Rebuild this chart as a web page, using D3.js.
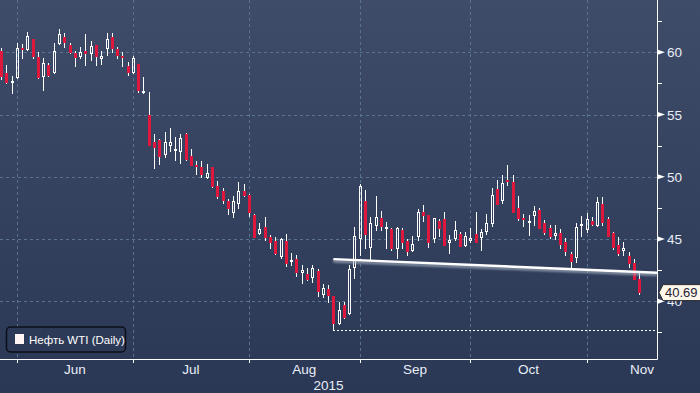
<!DOCTYPE html>
<html><head><meta charset="utf-8">
<script src="https://cdn.jsdelivr.net/npm/d3@7"></script>
<style>html,body{margin:0;padding:0;background:#2d3a58;overflow:hidden}</style>
</head><body>
<script>
// ---- DATA ----
const opens = [60.10,58.30,57.66,57.95,60.31,60.18,61.04,59.59,57.98,58.97,58.31,60.63,61.20,60.58,59.96,59.59,60.10,59.83,60.58,59.43,60.23,61.20,60.23,59.72,58.89,58.31,59.05,56.88,54.96,52.79,52.95,51.74,52.47,52.16,51.98,53.43,51.66,50.94,50.76,49.89,50.76,49.28,48.86,48.05,47.06,47.78,48.85,48.53,46.93,45.37,45.94,45.18,44.84,43.57,44.84,43.28,43.40,42.24,42.18,41.84,42.45,40.50,41.02,40.38,38.17,39.70,38.95,42.64,44.97,48.09,44.26,46.04,46.66,45.90,45.80,44.17,45.72,44.84,44.06,45.14,47.19,46.92,44.97,46.44,46.60,44.66,44.99,45.40,44.46,44.86,45.40,45.05,45.58,46.20,48.99,48.07,49.74,49.55,47.46,46.72,46.26,46.87,47.33,46.31,45.91,45.26,45.50,44.78,43.79,43.45,46.07,45.72,46.47,46.04,47.81,46.60,45.45,44.51,44.06,43.63,43.04,41.82];
const highs = [60.31,58.97,58.09,60.71,60.66,61.60,61.10,59.99,59.51,59.16,60.71,61.84,61.52,60.71,60.10,60.39,61.46,60.92,60.60,60.10,61.56,61.56,60.44,59.99,59.24,59.70,59.10,58.03,56.80,53.43,53.03,53.62,53.89,53.17,53.43,53.53,52.23,51.26,51.26,51.02,50.80,49.66,49.07,48.21,48.45,49.55,49.42,48.61,47.00,46.26,46.74,45.32,45.16,45.05,45.40,43.85,43.71,42.91,42.67,42.91,42.59,41.37,41.29,40.40,39.97,39.97,42.91,45.98,49.39,48.90,46.79,48.48,47.25,46.40,45.88,46.00,45.86,45.00,45.24,47.41,47.73,46.95,46.71,46.58,47.19,45.32,46.47,45.58,45.58,45.90,47.19,45.80,47.00,49.12,49.74,50.14,50.94,50.14,48.45,46.98,46.93,47.67,47.52,46.53,46.13,46.13,45.80,45.05,43.98,46.31,46.85,47.06,46.74,48.39,48.39,46.79,45.58,45.18,44.73,43.98,43.39,42.30];
const lows = [57.77,57.42,56.64,57.82,59.43,60.12,59.43,57.85,56.91,57.98,58.28,60.55,60.31,59.83,58.79,59.45,58.89,59.32,58.92,58.99,59.70,59.91,59.45,58.84,58.11,58.25,56.75,56.64,52.47,50.62,50.94,51.53,52.01,51.29,51.00,51.29,50.85,50.14,49.92,49.84,49.09,48.21,47.78,46.92,46.71,47.41,48.39,46.79,45.05,45.32,44.86,44.19,43.71,43.40,42.77,42.83,41.97,41.39,41.65,41.43,40.34,40.22,39.88,37.69,38.09,38.58,38.90,41.79,43.63,44.19,43.31,45.64,45.64,44.19,44.00,43.40,44.19,43.63,43.98,44.86,46.39,44.30,44.70,45.13,44.40,43.77,44.84,44.35,44.38,44.65,44.68,44.06,45.32,45.93,47.73,47.81,49.25,47.11,46.47,45.99,45.27,46.04,45.80,45.32,44.97,44.92,44.19,43.63,42.57,43.10,45.19,45.46,46.07,45.99,46.07,45.19,44.11,43.63,43.63,42.64,41.70,40.50];
const closes = [58.03,57.50,57.72,60.31,60.20,61.30,59.64,57.95,59.11,58.09,60.12,61.46,60.76,59.96,59.51,59.99,59.88,60.50,59.59,59.70,61.04,60.26,59.72,59.64,58.35,59.51,56.91,56.91,52.49,52.33,51.61,52.79,52.79,52.23,53.11,51.34,50.88,50.86,50.14,50.32,49.20,48.39,48.08,47.38,48.05,48.85,48.48,47.11,45.11,45.79,45.11,44.65,43.79,45.00,42.99,43.31,42.24,42.50,41.73,42.64,40.76,41.08,40.38,38.15,39.29,38.63,42.56,45.24,49.26,45.33,46.26,46.74,45.99,45.98,44.17,45.89,44.65,43.98,44.57,47.17,46.87,44.65,46.66,45.80,44.46,44.92,45.72,44.38,45.24,45.05,44.70,45.53,46.26,48.53,47.73,49.47,49.60,47.11,46.60,46.63,46.44,47.27,45.80,45.46,45.19,45.45,44.51,43.97,43.17,45.99,46.18,46.58,46.12,47.95,46.26,45.19,44.30,43.79,44.25,42.96,41.70,40.69];
const monthLabels = ["Jun","Jul","Aug","Sep","Oct","Nov"];
const monthStartIdx = [3,25,47,68,89,111,132];   // trading-day index of each month start (last = Dec)
const yearLabel = "2015";
const yTicksMajor = [40,45,50,55,60];
const yTicksMinor = [37.5,42.5,47.5,52.5,57.5,62.5];
const trendStartIdx = 63;
const trendPrices = [43.38, 42.29];           // start, at right axis
const supportIdx = 63;                        // low of this candle -> dotted support line
const seriesName = "Нефть WTI (Daily)";

// ---- LAYOUT ----
const W = 700, H = 393, plotR = 657, axisY = 359;
const RED = "#e0173d";
const svg = d3.select("body").append("svg").attr("width", W).attr("height", H);
const defs = svg.append("defs");
const g = defs.append("linearGradient").attr("id","bg").attr("x1",0).attr("y1",0).attr("x2",0).attr("y2",1);
g.append("stop").attr("offset","0%").attr("stop-color","#3f4c69");
g.append("stop").attr("offset","100%").attr("stop-color","#2a3755");
const blur = defs.append("filter").attr("id","blur").attr("x","-5%").attr("y","-200%").attr("width","110%").attr("height","500%");
blur.append("feGaussianBlur").attr("stdDeviation",1.2);
svg.append("rect").attr("width",W).attr("height",H).attr("fill","url(#bg)");

const x = d3.scaleLinear().domain([0, 121]).range([1, 639.3]);
const y = d3.scaleLinear().domain([40, 60]).range([301.2, 52.3]);

// grid
const grid = svg.append("g").attr("stroke","#58728f").attr("stroke-dasharray","3,3").attr("stroke-width",1);
yTicksMajor.forEach(v => {
  const yy = Math.round(y(v)) + 0.5;
  grid.append("line").attr("x1",0).attr("x2",plotR).attr("y1",yy).attr("y2",yy);
});
monthStartIdx.slice(0,6).forEach(i => {
  const xx = Math.round(x(i)) + 0.5;
  grid.append("line").attr("x1",xx).attr("x2",xx).attr("y1",0).attr("y2",axisY);
});

// support dotted line
const sy = Math.round(y(lows[supportIdx])) + 0.5;
svg.append("line").attr("x1", Math.round(x(supportIdx))).attr("x2", plotR).attr("y1", sy).attr("y2", sy)
  .attr("stroke","#ffffff").attr("stroke-width",1).attr("stroke-dasharray","2,2");

// candles
const data = opens.map((o,i) => ({i, o, h: highs[i], l: lows[i], c: closes[i]}));
const cg = svg.append("g");
data.forEach(d => {
  const px = Math.round(x(d.i));
  const up = d.c >= d.o;
  const top = Math.round(y(Math.max(d.o, d.c)));
  const bot = Math.round(y(Math.min(d.o, d.c)));
  const hy = Math.round(y(d.h)), ly = Math.round(y(d.l));
  if (hy < top) cg.append("line").attr("x1",px+0.5).attr("x2",px+0.5).attr("y1",hy).attr("y2",top).attr("stroke","#fff");
  if (ly > bot) cg.append("line").attr("x1",px+0.5).attr("x2",px+0.5).attr("y1",bot).attr("y2",ly).attr("stroke","#fff");
  if (bot - top < 2) {
    cg.append("rect").attr("x",px-1).attr("y",top).attr("width",3).attr("height",Math.max(2,bot-top))
      .attr("fill", up ? "#fff" : RED);
  } else if (up) {
    cg.append("rect").attr("x",px-0.5).attr("y",top+0.5).attr("width",2).attr("height",bot-top-1)
      .attr("fill","none").attr("stroke","#fff").attr("stroke-width",1);
  } else {
    cg.append("rect").attr("x",px-1).attr("y",top).attr("width",3).attr("height",bot-top).attr("fill",RED);
  }
});

// trend line
const tx1 = x(trendStartIdx), ty1 = y(trendPrices[0]), ty2 = y(trendPrices[1]);
svg.append("line").attr("x1",tx1).attr("y1",ty1+2).attr("x2",plotR).attr("y2",ty2+2)
  .attr("stroke","#a9b3c2").attr("stroke-width",2.5).attr("opacity",0.8).attr("filter","url(#blur)");
svg.append("line").attr("x1",tx1).attr("y1",ty1).attr("x2",plotR).attr("y2",ty2)
  .attr("stroke","#ffffff").attr("stroke-width",2.4);

// axes lines
svg.append("line").attr("x1",0).attr("x2",plotR+0.5).attr("y1",axisY+0.5).attr("y2",axisY+0.5).attr("stroke","#fff");
svg.append("line").attr("x1",plotR+0.5).attr("x2",plotR+0.5).attr("y1",0).attr("y2",axisY+0.5).attr("stroke","#fff");

// y ticks
yTicksMajor.forEach(v => {
  const yy = y(v);
  svg.append("path").attr("d",`M${plotR},${yy-2.8}L${plotR+8},${yy}L${plotR},${yy+2.8}Z`).attr("fill","#fff");
  svg.append("text").attr("x",667).attr("y",yy+5).text(v)
    .attr("fill","#e9eef7").attr("font-family","Liberation Sans, Arial, sans-serif").attr("font-size",13.5);
});
yTicksMinor.forEach(v => {
  const yy = Math.round(y(v)) + 0.5;
  svg.append("line").attr("x1",plotR).attr("x2",plotR+5).attr("y1",yy).attr("y2",yy).attr("stroke","#fff");
});

// x ticks and labels
monthStartIdx.slice(0,6).forEach((idx,k) => {
  const xx = Math.round(x(idx)) + 0.5;
  svg.append("line").attr("x1",xx).attr("x2",xx).attr("y1",axisY).attr("y2",axisY+4).attr("stroke","#fff");
  const mid = x((idx + monthStartIdx[k+1]) / 2);
  svg.append("text").attr("x",mid).attr("y",374).attr("text-anchor","middle").text(monthLabels[k])
    .attr("fill","#e9eef7").attr("font-family","Liberation Sans Narrow, Liberation Sans, Arial, sans-serif").attr("font-size",13.5);
});
svg.append("text").attr("x",plotR/2).attr("y",390).attr("text-anchor","middle").text(yearLabel)
  .attr("fill","#e9eef7").attr("font-family","Liberation Sans Narrow, Liberation Sans, Arial, sans-serif").attr("font-size",13.5);

// last price label
const lpy = y(closes[closes.length-1]);
svg.append("path")
  .attr("d",`M659,${lpy}L663,${lpy-8}L703,${lpy-8}L703,${lpy+8}L663,${lpy+8}Z`)
  .attr("fill","#fdf6ea").attr("stroke","#2a2a2a").attr("stroke-width",1);
svg.append("text").attr("x",665).attr("y",lpy+4.8).text(d3.format(".2f")(closes[closes.length-1]))
  .attr("fill","#1d2233").attr("font-family","Liberation Sans, Arial, sans-serif").attr("font-size",13);

// legend
svg.append("rect").attr("x",6.5).attr("y",327).attr("width",119).attr("height",25).attr("rx",4)
  .attr("fill","#2d3a57").attr("stroke","#0c0f18").attr("stroke-width",1.5);
svg.append("rect").attr("x",15).attr("y",334).attr("width",9).attr("height",10).attr("fill","#fdf6f4");
svg.append("text").attr("x",29).attr("y",344).text(seriesName)
  .attr("fill","#ffffff").attr("font-family","Liberation Sans Narrow, Liberation Sans, Arial, sans-serif").attr("font-size",11.5);
</script>
</body></html>
